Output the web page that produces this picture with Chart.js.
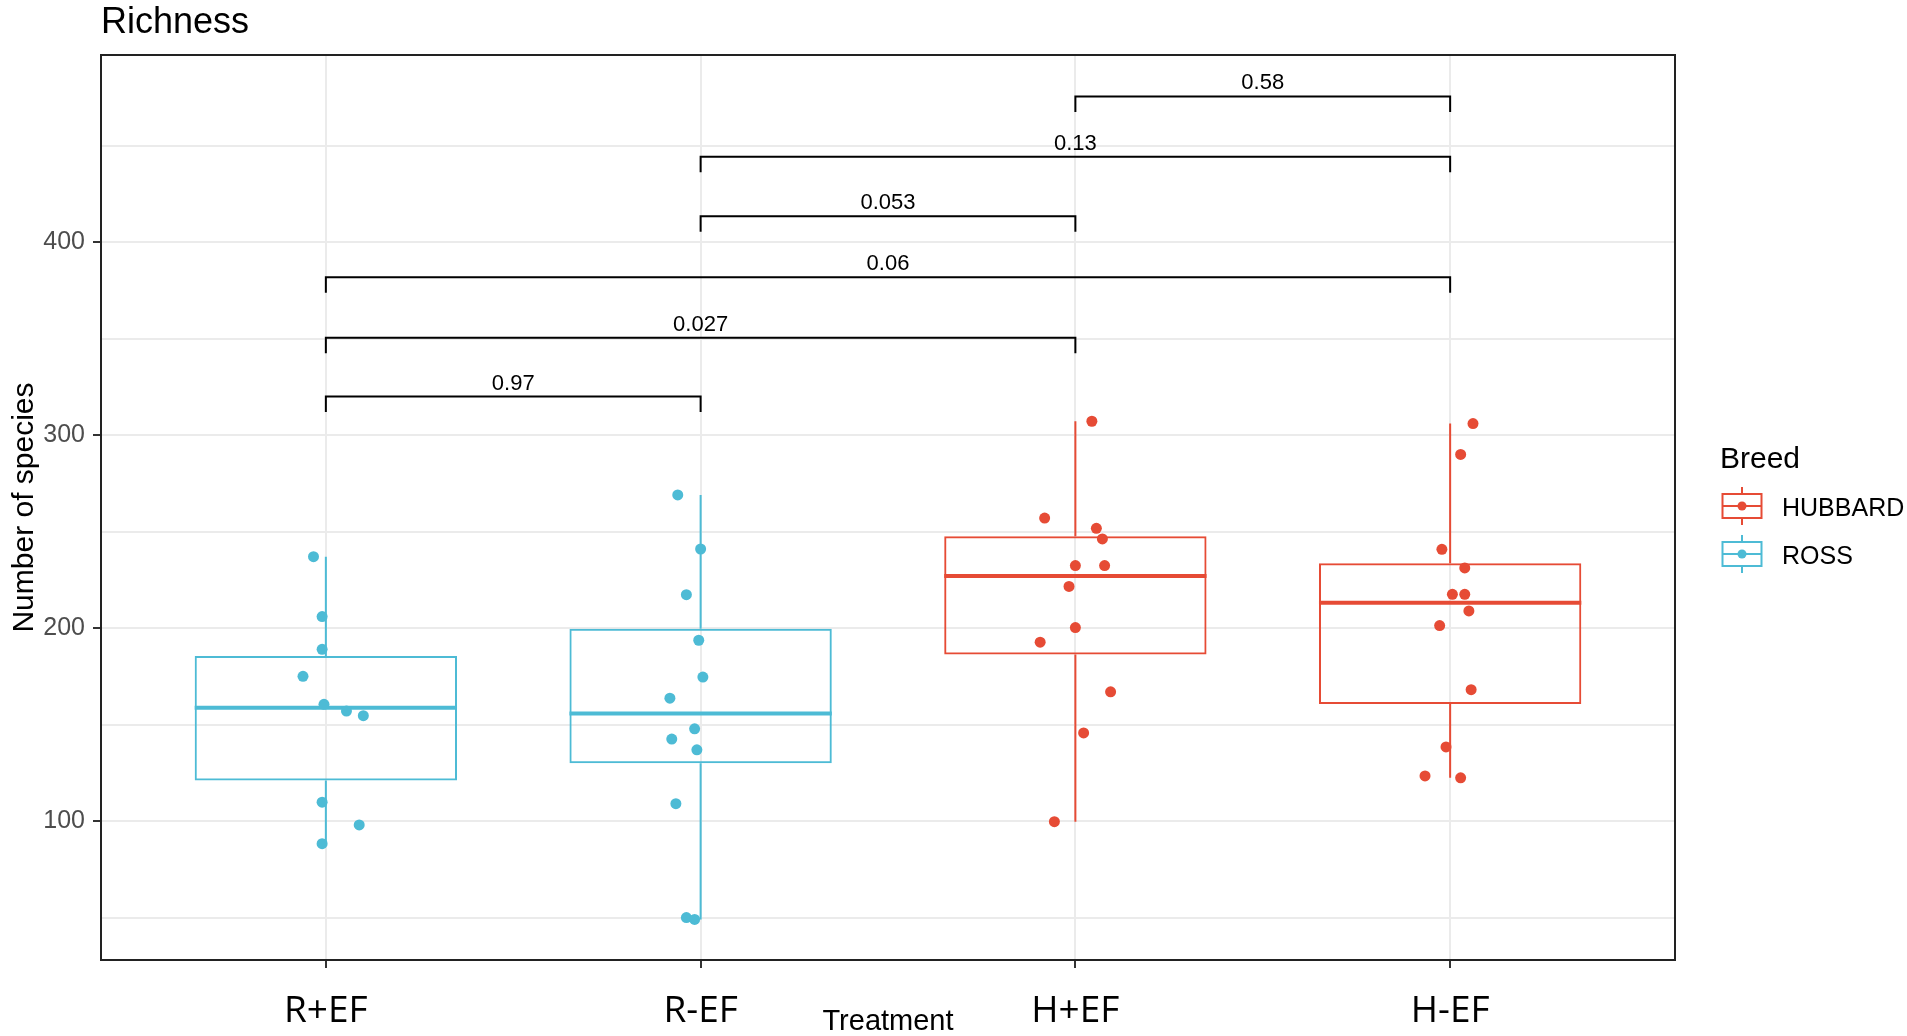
<!DOCTYPE html>
<html>
<head>
<meta charset="utf-8">
<script src="https://cdn.jsdelivr.net/npm/chart.js@4.4.1/dist/chart.umd.min.js"></script>
<style>
  html, body { margin: 0; padding: 0; background: #fff; }
  #wrap { width: 1907px; height: 1036px; position: relative; }
</style>
</head>
<body>
<div id="wrap"><canvas id="richnessChart"></canvas></div>
<script>
const treatments = ['R+EF', 'R-EF', 'H+EF', 'H-EF'];
const treatmentBreed = ['ROSS', 'ROSS', 'HUBBARD', 'HUBBARD'];
const breeds = ['HUBBARD', 'ROSS'];
const breedColors = { HUBBARD: '#E64B35', ROSS: '#4DBBD5' };

// number of species per sample
const richRplusEF = [237, 206, 189, 175, 160.5, 157, 154.6, 109.8, 98, 88.3];
const richRminusEF = [269, 241, 217.3, 193.7, 174.6, 163.7, 147.8, 142.5, 136.9, 109, 50, 49];
const richHplusEF = [307.2, 257, 251.7, 246.2, 232.4, 232.4, 221.6, 200.3, 192.7, 167, 145.7, 99.7];
const richHminusEF = [306, 290, 240.8, 231.2, 217.5, 217.5, 208.9, 201.3, 168.1, 138.4, 123.4, 122.4];

// horizontal jitter of each point, in treatment units
const jitRplusEF = [-0.033, -0.010, -0.010, -0.061, -0.005, 0.055, 0.100, -0.010, 0.089, -0.010];
const jitRminusEF = [-0.061, 0, -0.038, -0.005, 0.006, -0.082, -0.016, -0.077, -0.010, -0.066, -0.038, -0.016];
const jitHplusEF = [0.044, -0.082, 0.056, 0.072, 0, 0.078, -0.017, 0, -0.094, 0.094, 0.022, -0.056];
const jitHminusEF = [0.061, 0.028, -0.022, 0.039, 0.006, 0.039, 0.05, -0.028, 0.056, -0.011, -0.067, 0.028];

// pairwise comparisons: from / to treatment (1-based), p-value, bracket height
const pairFrom = [1, 1, 1, 2, 2, 3];
const pairTo = [2, 3, 4, 3, 4, 4];
const pairP = ['0.97', '0.027', '0.06', '0.053', '0.13', '0.58'];
const pairY = [320, 350.5, 381.8, 413.4, 444.3, 475.5];

const yTicks = [100, 200, 300, 400];

const richness = [richRplusEF, richRminusEF, richHplusEF, richHminusEF];
const jitter = [jitRplusEF, jitRminusEF, jitHplusEF, jitHminusEF];

function quantile(sorted, p) {
  const pos = (sorted.length - 1) * p;
  const lo = Math.floor(pos);
  const frac = pos - lo;
  if (lo + 1 >= sorted.length) return sorted[lo];
  return sorted[lo] + frac * (sorted[lo + 1] - sorted[lo]);
}

function boxStats(values) {
  const s = values.slice().sort((a, b) => a - b);
  const q1 = quantile(s, 0.25), med = quantile(s, 0.5), q3 = quantile(s, 0.75);
  const iqr = q3 - q1;
  const lo = Math.min(...s.filter(v => v >= q1 - 1.5 * iqr));
  const hi = Math.max(...s.filter(v => v <= q3 + 1.5 * iqr));
  return { q1, med, q3, lo, hi };
}

const stats = richness.map(boxStats);
const colorOf = i => breedColors[treatmentBreed[i]];
const BOX_HALF = 0.35;
const TIP = 8;

const datasets = [];

// boxes as floating bars
datasets.push({
  type: 'bar',
  data: stats.map((s, i) => ({ x: i + 1, y: [s.q1, s.q3] })),
  backgroundColor: 'rgba(0,0,0,0)',
  borderColor: treatments.map((t, i) => colorOf(i)),
  borderWidth: 2,
  borderSkipped: false,
  barPercentage: 0.7,
  categoryPercentage: 1,
  grouped: false,
  order: 10
});

stats.forEach((s, i) => {
  const c = colorOf(i);
  // whiskers
  datasets.push({
    type: 'line',
    data: [{ x: i + 1, y: s.hi }, { x: i + 1, y: s.q3 }, { x: i + 1, y: null },
           { x: i + 1, y: s.q1 }, { x: i + 1, y: s.lo }],
    borderColor: c, borderWidth: 2, pointRadius: 0, spanGaps: false, order: 9
  });
  // median
  datasets.push({
    type: 'line',
    data: [{ x: i + 1 - BOX_HALF, y: s.med }, { x: i + 1 + BOX_HALF, y: s.med }],
    borderColor: c, borderWidth: 4, pointRadius: 0, order: 8
  });
  // jittered points
  datasets.push({
    type: 'scatter',
    data: richness[i].map((v, k) => ({ x: i + 1 + jitter[i][k], y: v })),
    backgroundColor: c, borderWidth: 0, pointRadius: 5.5, pointHoverRadius: 5.5, order: 5
  });
});

// significance brackets
pairFrom.forEach((f, k) => {
  const t = pairTo[k], h = pairY[k];
  datasets.push({
    type: 'line',
    data: [{ x: f, y: h - TIP }, { x: f, y: h }, { x: t, y: h }, { x: t, y: h - TIP }],
    borderColor: '#000', borderWidth: 2, pointRadius: 0, order: 1
  });
});

const yGrid = yTicks.flatMap(v => [v - 50, v]).concat(yTicks[yTicks.length - 1] + 50);

const decorations = {
  id: 'decorations',
  afterDatasetsDraw(chart) {
    const { ctx, chartArea: a, scales: { x, y } } = chart;
    ctx.save();
    // panel border
    ctx.strokeStyle = '#222';
    ctx.lineWidth = 2;
    ctx.strokeRect(a.left, a.top, a.right - a.left, a.bottom - a.top);
    // p-value labels
    ctx.fillStyle = '#000';
    ctx.font = '22px "Liberation Sans", Arial, sans-serif';
    ctx.textAlign = 'center';
    ctx.textBaseline = 'alphabetic';
    pairFrom.forEach((f, k) => {
      const px = x.getPixelForValue((f + pairTo[k]) / 2);
      const py = y.getPixelForValue(pairY[k]) - 7;
      ctx.fillText(pairP[k], px, py);
    });
    ctx.restore();
  },
  afterDraw(chart) {
    const { ctx, chartArea: a } = chart;
    ctx.save();
    ctx.fillStyle = '#000';
    ctx.textAlign = 'left';
    ctx.textBaseline = 'alphabetic';
    ctx.font = '36px "Liberation Sans", Arial, sans-serif';
    ctx.fillText('Richness', a.left, 33);
    // x axis title
    ctx.textAlign = 'center';
    ctx.font = '29px "Liberation Sans", Arial, sans-serif';
    ctx.fillText('Treatment', (a.left + a.right) / 2, 1030);
    // legend
    const mid = (a.top + a.bottom) / 2;
    const lx = a.right + 45;
    ctx.textAlign = 'left';
    ctx.font = '30px "Liberation Sans", Arial, sans-serif';
    ctx.fillText('Breed', lx, mid - 40);
    breeds.forEach((b, k) => {
      const cy = mid - 1.5 + k * 48;
      const cx = lx + 22;
      const c = breedColors[b];
      ctx.strokeStyle = c;
      ctx.fillStyle = c;
      ctx.lineWidth = 2;
      ctx.beginPath();
      ctx.moveTo(cx, cy - 19); ctx.lineTo(cx, cy - 12);
      ctx.moveTo(cx, cy + 12); ctx.lineTo(cx, cy + 19);
      ctx.stroke();
      ctx.strokeRect(cx - 19.5, cy - 12, 39, 24);
      ctx.beginPath();
      ctx.moveTo(cx - 19.5, cy); ctx.lineTo(cx + 19.5, cy);
      ctx.stroke();
      ctx.beginPath();
      ctx.arc(cx, cy, 4.5, 0, Math.PI * 2);
      ctx.fill();
      ctx.fillStyle = '#000';
      ctx.font = '25px "Liberation Sans", Arial, sans-serif';
      ctx.textBaseline = 'alphabetic';
      ctx.fillText(b, lx + 62, cy + 10);
    });
    ctx.restore();
  }
};

new Chart(document.getElementById('richnessChart'), {
  data: { datasets },
  options: {
    responsive: true,
    maintainAspectRatio: false,
    animation: false,
    devicePixelRatio: 1,
    layout: { padding: { left: 0, top: 55, right: 232, bottom: 0 } },
    plugins: { legend: { display: false }, tooltip: { enabled: false }, title: { display: false } },
    scales: {
      x: {
        type: 'linear',
        min: 0.4,
        max: 4.6,
        offset: false,
        afterBuildTicks: s => { s.ticks = treatments.map((t, i) => ({ value: i + 1 })); },
        afterFit: s => { s.height = 76; },
        ticks: {
          callback: (v, i) => treatments[i],
          autoSkip: false,
          maxRotation: 0,
          color: '#000',
          padding: 21,
          font: { family: '"Open Sans", "Noto Sans", sans-serif', size: 37 }
        },
        grid: { offset: false, color: '#ebebeb', lineWidth: 2, tickLength: 8, tickColor: '#333', tickWidth: 2 },
        border: { display: false }
      },
      y: {
        type: 'linear',
        min: 28,
        max: 497,
        afterBuildTicks: s => { s.ticks = yGrid.map(v => ({ value: v })); },
        afterFit: s => { s.width = 101; },
        ticks: {
          callback: v => (yTicks.includes(v) ? String(v) : ''),
          color: '#4d4d4d',
          padding: 8,
          font: { family: '"Liberation Sans", Arial, sans-serif', size: 25 }
        },
        grid: {
          color: '#ebebeb',
          lineWidth: 2,
          tickLength: 8,
          tickWidth: 2,
          tickColor: c => (yTicks.includes(c.tick.value) ? '#333' : 'rgba(0,0,0,0)')
        },
        border: { display: false },
        title: {
          display: true,
          text: 'Number of species',
          color: '#000',
          padding: { top: 7, bottom: 0 },
          font: { family: '"Liberation Sans", Arial, sans-serif', size: 30 }
        }
      }
    }
  },
  plugins: [decorations]
});
</script>
</body>
</html>
